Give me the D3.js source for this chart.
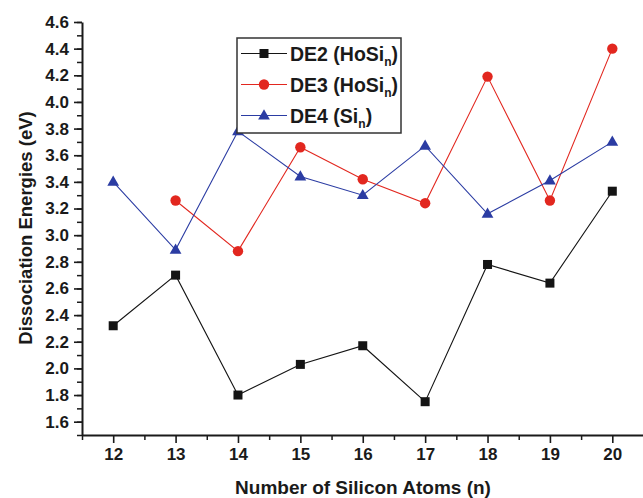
<!DOCTYPE html>
<html>
<head>
<meta charset="utf-8">
<script src="https://cdn.jsdelivr.net/npm/d3@7"></script>
<style>
  body { margin: 0; background: #fff; }
  text { font-family: "Liberation Sans", Arial, sans-serif; font-weight: bold; fill: #1a1a1a; }
</style>
</head>
<body>
<div id="chart"></div>
<script>
// number of silicon atoms
var atoms = [12, 13, 14, 15, 16, 17, 18, 19, 20];

// dissociation energies (null = no point)
var de2 = [2.32, 2.70, 1.80, 2.03, 2.17, 1.75, 2.78, 2.64, 3.33];
var de3 = [null, 3.26, 2.88, 3.66, 3.42, 3.24, 4.19, 3.26, 4.40];
var de4 = [3.40, 2.89, 3.78, 3.44, 3.30, 3.67, 3.16, 3.41, 3.70];

// tick values
var yTicks = [1.6, 1.8, 2.0, 2.2, 2.4, 2.6, 2.8, 3.0, 3.2, 3.4, 3.6, 3.8, 4.0, 4.2, 4.4, 4.6];
var xMinor = [11.5, 12.5, 13.5, 14.5, 15.5, 16.5, 17.5, 18.5, 19.5, 20.5];

var seriesNames = ["DE2 (HoSi", "DE3 (HoSi", "DE4 (Si"];
var seriesColors = ["#141414", "#e2271f", "#2b3ca3"];
var seriesShapes = ["square", "circle", "triangle"];
var seriesValues = [de2, de3, de4];

var width = 643, height = 498;

var svg = d3.select("#chart")
    .append("svg")
    .attr("width", width)
    .attr("height", height);

// scales
var x = d3.scaleLinear().domain([11.5, 20.5]).range([82, 643.5]);
var y = d3.scaleLinear().domain([1.5, 4.6]).range([435, 22]);

// minor ticks on y every 0.1
var yMinor = d3.range(15, 47).map(function(d) { return d / 10; });

// y axis minor
svg.append("g")
    .attr("transform", "translate(" + x(11.5) + ",0)")
    .call(d3.axisLeft(y).tickValues(yMinor).tickSize(5).tickFormat("").tickSizeOuter(0))
    .call(function(g) { g.select(".domain").remove(); })
    .selectAll("line").attr("stroke", "#1a1a1a").attr("stroke-width", 1.5);

// y axis major
svg.append("g")
    .attr("transform", "translate(" + x(11.5) + ",0)")
    .call(d3.axisLeft(y).tickValues(yTicks).tickSize(8).tickPadding(5).tickFormat(d3.format(".1f")).tickSizeOuter(0))
    .call(function(g) {
        g.select(".domain").attr("stroke", "#1a1a1a").attr("stroke-width", 2);
        g.selectAll("line").attr("stroke", "#1a1a1a").attr("stroke-width", 1.6);
        g.selectAll("text").style("font-size", "17px").attr("fill", "#1a1a1a");
    });

// x axis minor
svg.append("g")
    .attr("transform", "translate(0," + y(1.5) + ")")
    .call(d3.axisBottom(x).tickValues(xMinor).tickSize(5).tickFormat("").tickSizeOuter(0))
    .call(function(g) { g.select(".domain").remove(); })
    .selectAll("line").attr("stroke", "#1a1a1a").attr("stroke-width", 1.5);

// x axis major
svg.append("g")
    .attr("transform", "translate(0," + y(1.5) + ")")
    .call(d3.axisBottom(x).tickValues(atoms).tickSize(8).tickPadding(5).tickFormat(d3.format("d")).tickSizeOuter(0))
    .call(function(g) {
        g.select(".domain").attr("stroke", "#1a1a1a").attr("stroke-width", 2);
        g.selectAll("line").attr("stroke", "#1a1a1a").attr("stroke-width", 1.6);
        g.selectAll("text").style("font-size", "17px").attr("fill", "#1a1a1a");
    });

// axis titles
svg.append("text")
    .attr("x", 363)
    .attr("y", 494)
    .attr("text-anchor", "middle")
    .style("font-size", "19px")
    .text("Number of Silicon Atoms (n)");

svg.append("text")
    .attr("transform", "translate(32,228) rotate(-90)")
    .attr("text-anchor", "middle")
    .style("font-size", "18.5px")
    .text("Dissociation Energies (eV)");

// marker drawing
function drawMarker(g, shape, color) {
    if (shape == "square") {
        g.append("rect").attr("x", -4.5).attr("y", -4.5).attr("width", 9).attr("height", 9).attr("fill", color);
    } else if (shape == "circle") {
        g.append("circle").attr("r", 5.2).attr("fill", color);
    } else {
        g.append("path").attr("d", d3.symbol().type(d3.symbolTriangle).size(60)()).attr("fill", color)
            .attr("transform", "translate(0,0.5)");
    }
}

var line = d3.line()
    .defined(function(d) { return d.v != null; })
    .x(function(d) { return x(d.n); })
    .y(function(d) { return y(d.v); });

// lines and markers
seriesValues.forEach(function(vals, i) {
    var pts = atoms.map(function(n, j) { return {n: n, v: vals[j]}; });
    svg.append("path")
        .datum(pts)
        .attr("d", line)
        .attr("fill", "none")
        .attr("stroke", seriesColors[i])
        .attr("stroke-width", 1.1);
    pts.filter(function(d) { return d.v != null; }).forEach(function(d) {
        var g = svg.append("g").attr("transform", "translate(" + x(d.n) + "," + y(d.v) + ")");
        drawMarker(g, seriesShapes[i], seriesColors[i]);
    });
});

// legend
var legend = svg.append("g");
legend.append("rect")
    .attr("x", 237).attr("y", 38)
    .attr("width", 164).attr("height", 95)
    .attr("fill", "#fff")
    .attr("stroke", "#333")
    .attr("stroke-width", 1.5);

seriesNames.forEach(function(name, i) {
    var cy = 53.5 + i * 31;
    legend.append("line")
        .attr("x1", 241).attr("x2", 287)
        .attr("y1", cy).attr("y2", cy)
        .attr("stroke", seriesColors[i])
        .attr("stroke-width", 1.1);
    var g = legend.append("g").attr("transform", "translate(264," + cy + ")");
    drawMarker(g, seriesShapes[i], seriesColors[i]);
    var t = legend.append("text")
        .attr("x", 290)
        .attr("y", cy + 7)
        .style("font-size", "19.5px");
    t.append("tspan").text(name);
    t.append("tspan").attr("dy", 5).style("font-size", "12px").text("n");
    t.append("tspan").attr("dy", -5).text(")");
});
</script>
</body>
</html>
